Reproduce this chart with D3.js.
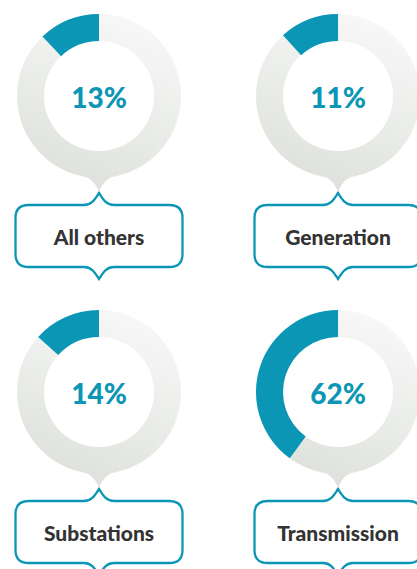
<!DOCTYPE html>
<html>
<head>
<meta charset="utf-8">
<script src="https://cdn.jsdelivr.net/npm/d3@7"></script>
<style>
  html, body { margin: 0; padding: 0; background: #fff; }
  svg { display: block; }
</style>
</head>
<body>
<div id="chart"></div>
<script>
// chart values
var labels = ["All others", "Generation", "Substations", "Transmission"];
var percents = [13, 11, 14, 62];
// share of the ring drawn in teal, as it appears in the picture
var arcShares = [0.121, 0.117, 0.133, 0.40];
var cols = [0, 1, 0, 1];
var rows = [0, 0, 1, 1];

const total_width = 417
const total_height = 569
const teal = "#0c96b5"
const outer_r = 82
const inner_r = 55

var svg = d3.select("#chart").append("svg").attr("width", total_width).attr("height", total_height);

var defs = svg.append("defs");
var grad = defs.append("linearGradient").attr("id", "ringGrad")
    .attr("gradientUnits", "userSpaceOnUse")
    .attr("x1", 35).attr("y1", -82).attr("x2", -35).attr("y2", 96);
grad.append("stop").attr("offset", "0%").attr("stop-color", "#f7f8f8");
grad.append("stop").attr("offset", "45%").attr("stop-color", "#eceeeb");
grad.append("stop").attr("offset", "100%").attr("stop-color", "#dcdfd9");

var x = d3.scalePoint().domain([0, 1]).range([99, 338]);
var y = d3.scalePoint().domain([0, 1]).range([96, 392]);

var ring = d3.arc().innerRadius(inner_r).outerRadius(outer_r);
var pie = d3.pie().sort(null).startAngle(0).endAngle(-2 * Math.PI);

// callout box with notches top and bottom
function boxPath() {
    var hw = 83.5, top = 109, bot = 171, r = 13, n = 15, h = 12;
    return "M" + (-hw + r) + "," + top +
        "L" + (-n) + "," + top +
        "C" + (-7) + "," + top + " " + (-4) + "," + (top - 6) + " 0," + (top - h) +
        "C" + 4 + "," + (top - 6) + " " + 7 + "," + top + " " + n + "," + top +
        "L" + (hw - r) + "," + top +
        "Q" + hw + "," + top + " " + hw + "," + (top + r) +
        "L" + hw + "," + (bot - r) +
        "Q" + hw + "," + bot + " " + (hw - r) + "," + bot +
        "L" + n + "," + bot +
        "C" + 7 + "," + bot + " " + 4 + "," + (bot + 6) + " 0," + (bot + h) +
        "C" + (-4) + "," + (bot + 6) + " " + (-7) + "," + bot + " " + (-n) + "," + bot +
        "L" + (-hw + r) + "," + bot +
        "Q" + (-hw) + "," + bot + " " + (-hw) + "," + (bot - r) +
        "L" + (-hw) + "," + (top + r) +
        "Q" + (-hw) + "," + top + " " + (-hw + r) + "," + top + "Z";
}

labels.forEach(function(label, i) {
    var g = svg.append("g").attr("transform", "translate(" + x(cols[i]) + "," + y(rows[i]) + ")");

    // gray ring and its tail
    g.append("path").attr("d", ring({startAngle: 0, endAngle: 2 * Math.PI})).attr("fill", "url(#ringGrad)");
    g.append("path").attr("d", "M-22,78 Q-5,81 0,96 Q5,81 22,78 Z").attr("fill", "url(#ringGrad)");

    // teal share
    var slices = pie([arcShares[i], 1 - arcShares[i]]);
    g.append("path").attr("d", ring(slices[0])).attr("fill", teal);

    g.append("text").attr("text-anchor", "middle").attr("dominant-baseline", "central")
        .attr("x", 0).attr("y", 1)
        .style("font-family", "Lato, 'Open Sans', sans-serif").style("font-weight", 900).style("font-size", "28px")
        .attr("fill", teal).text(percents[i] + "%");

    g.append("path").attr("d", boxPath()).attr("fill", "#fff").attr("stroke", teal).attr("stroke-width", 2.3);

    g.append("text").attr("text-anchor", "middle").attr("dominant-baseline", "central")
        .attr("x", 0).attr("y", 140)
        .style("font-family", "Lato, 'Open Sans', sans-serif").style("font-weight", 900).style("font-size", "21px")
        .attr("fill", "#333333").text(label);
});
</script>
</body>
</html>
